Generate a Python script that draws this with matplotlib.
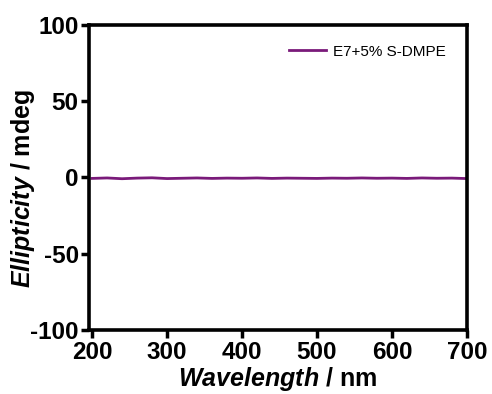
import matplotlib
matplotlib.use("Agg")
import matplotlib.pyplot as plt

plt.rcParams['font.family'] = ['Liberation Sans', 'DejaVu Sans']
plt.rcParams['mathtext.fontset'] = 'custom'
plt.rcParams['mathtext.it'] = 'Liberation Sans:italic:bold'
plt.rcParams['mathtext.rm'] = 'Liberation Sans:bold'
plt.rcParams['mathtext.bf'] = 'Liberation Sans:bold'
plt.rcParams['axes.unicode_minus'] = False

wavelength = [200, 220, 240, 260, 280, 300, 320, 340, 360, 380, 400, 420, 440, 460,
              480, 500, 520, 540, 560, 580, 600, 620, 640, 660, 680, 700]
ellipticity = [-0.6, -0.3, -0.8, -0.4, -0.2, -0.7, -0.5, -0.3, -0.6, -0.4, -0.5, -0.3,
               -0.6, -0.4, -0.5, -0.6, -0.4, -0.5, -0.3, -0.5, -0.4, -0.6, -0.3, -0.5,
               -0.4, -0.7]
series_label = "E7+5% S-DMPE"
xticks = [200, 300, 400, 500, 600, 700]
yticks = [-100, -50, 0, 50, 100]

fig = plt.figure(figsize=(4.92, 3.94), dpi=100)
ax = fig.add_axes([0.181, 0.162, 0.768, 0.775])
ax.plot(wavelength, ellipticity, color='#7a1a7a', lw=2.0, label=series_label)
ax.set_xlim(196, 700)
ax.set_ylim(-100, 100)
ax.set_xticks(xticks)
ax.set_yticks(yticks)
for s in ax.spines.values():
    s.set_linewidth(2.6)
ax.tick_params(direction='out', length=6, width=2.5, labelsize=17.5, pad=1.5)
for lab in ax.get_xticklabels() + ax.get_yticklabels():
    lab.set_fontweight('bold')
ax.set_xlabel(r'$Wavelength$ / nm', fontsize=18, fontweight='bold', labelpad=1)
ax.set_ylabel(r'$Ellipticity$ / mdeg', fontsize=18, fontweight='bold')
ax.yaxis.set_label_coords(-0.137, 0.465)
leg = ax.legend(loc='upper right', frameon=False, fontsize=11, handlelength=2.4,
                handletextpad=0.45, bbox_to_anchor=(0.98, 0.98))
fig.savefig('out.png', dpi=100)
